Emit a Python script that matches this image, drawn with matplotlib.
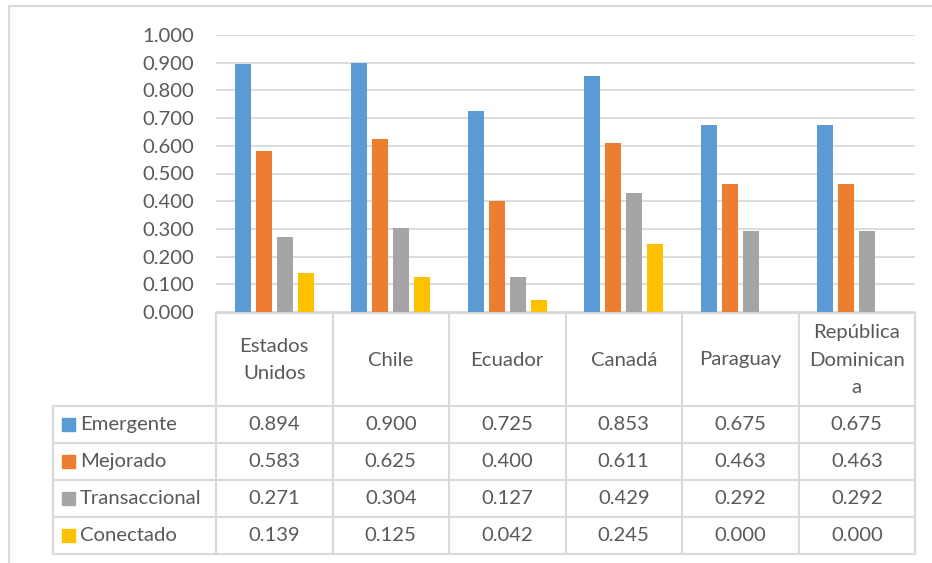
import numpy as np
import matplotlib
matplotlib.use('Agg')
import matplotlib.pyplot as plt

plt.rcParams['font.family'] = ['Lato', 'DejaVu Sans']

countries = ['Estados\nUnidos', 'Chile', 'Ecuador', 'Canadá', 'Paraguay', 'República\nDominican\na']
series = ['Emergente', 'Mejorado', 'Transaccional', 'Conectado']
emergente = [0.894, 0.900, 0.725, 0.853, 0.675, 0.675]
mejorado = [0.583, 0.625, 0.400, 0.611, 0.463, 0.463]
transaccional = [0.271, 0.304, 0.127, 0.429, 0.292, 0.292]
conectado = [0.139, 0.125, 0.042, 0.245, 0.000, 0.000]
colors = ['#5b9bd5', '#ed7d31', '#a5a5a5', '#ffc000']

W, H = 932, 563
txt = '#595959'
grid = '#d9d9d9'
fs = 14.6

fig = plt.figure(figsize=(W / 100, H / 100), dpi=100)

#plot area in pixels
left, right, top, bottom = 216, 915, 35, 312
ax = fig.add_axes([left / W, 1 - bottom / H, (right - left) / W, (bottom - top) / H])

x = np.arange(len(countries))
values = [emergente, mejorado, transaccional, conectado]
offsets = (np.arange(4) - 1.5) * 0.18
for vals, off, c in zip(values, offsets, colors):
    ax.bar(x + off, vals, width=0.137, color=c, zorder=3)

ax.set_xlim(-0.5, len(countries) - 0.5)
ax.set_ylim(0, 1.0)
yt = np.round(np.arange(0, 1.01, 0.1), 1)
ax.set_yticks(yt)
ax.set_yticklabels([f'{v:.3f}' for v in yt], color=txt, fontsize=fs)
ax.set_xticks([])
ax.tick_params(axis='y', length=0, pad=16)
ax.yaxis.grid(True, color=grid, lw=1.3)
ax.set_axisbelow(True)
for s in ax.spines.values():
    s.set_visible(False)

#data table drawn in pixel coords underneath
tb = fig.add_axes([0, 0, 1, 1], zorder=-1)
tb.set_xlim(0, W)
tb.set_ylim(H, 0)
tb.axis('off')

# outer chart border
tb.plot([9, 9], [6, H + 5], color=grid, lw=1.5)
tb.plot([9, W + 5], [6, 6], color=grid, lw=1.5)

colw = (right - left) / len(countries)
xs = left + colw * np.arange(len(countries) + 1)
hdr_top, hdr_bot = 313, 406
rowh = 37
row_edges = hdr_bot + rowh * np.arange(len(series) + 1)
lab_left = 53
lc = grid
lw = 1.5

tb.plot([left, right], [hdr_top, hdr_top], color=lc, lw=lw)
for y in row_edges:
    tb.plot([lab_left, right], [y, y], color=lc, lw=lw)
tb.plot([lab_left, lab_left], [hdr_bot, row_edges[-1]], color=lc, lw=lw)
for xe in xs:
    tb.plot([xe, xe], [hdr_top, row_edges[-1]], color=lc, lw=lw)

for i, name in enumerate(countries):
    tb.text((xs[i] + xs[i + 1]) / 2, (hdr_top + hdr_bot) / 2 + 0.5, name, ha='center', va='center',
            color=txt, fontsize=fs, linespacing=1.75, multialignment='center')

for r, (name, vals, c) in enumerate(zip(series, values, colors)):
    yc = (row_edges[r] + row_edges[r + 1]) / 2
    tb.add_patch(plt.Rectangle((62, yc - 6.5), 12.5, 12.5, color=c))
    tb.text(80, yc, name, ha='left', va='center', color=txt, fontsize=fs)
    for i, v in enumerate(vals):
        tb.text((xs[i] + xs[i + 1]) / 2, yc, f'{v:.3f}', ha='center', va='center',
                color=txt, fontsize=fs)

fig.savefig('out.png', dpi=100, facecolor='white')
